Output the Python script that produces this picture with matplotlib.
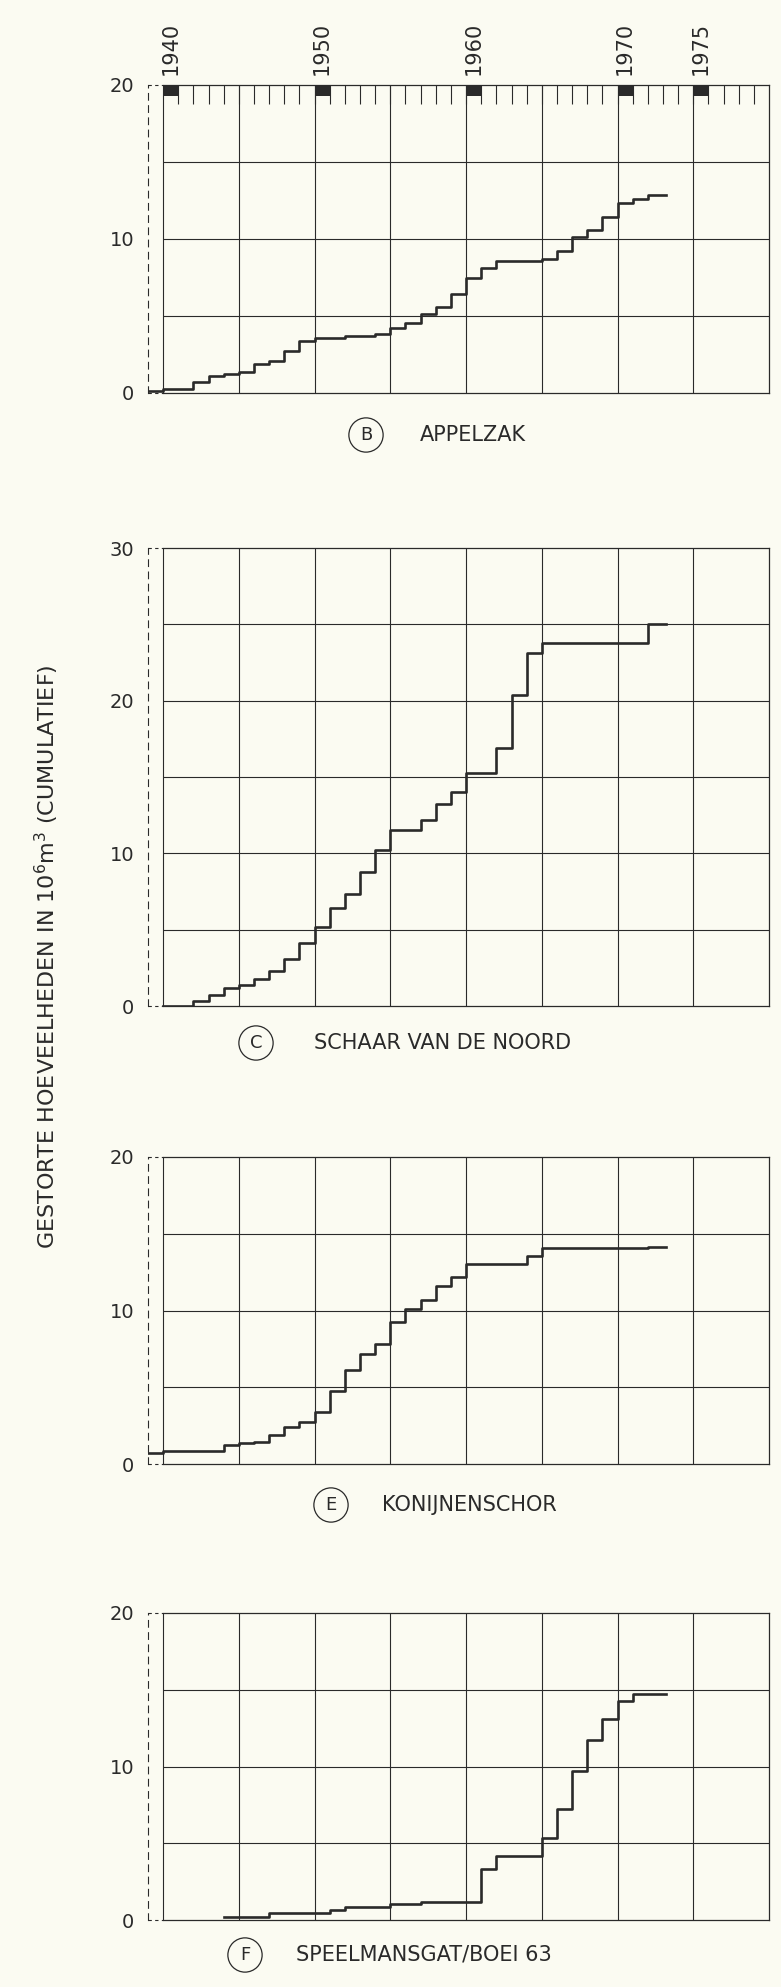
import numpy as np
import matplotlib.pyplot as plt

# year labels on top of the first panel, last year of every record
label_years = [1940, 1950, 1960, 1970, 1975]
end_year = 1973.2

# cumulative dumped quantities (10^6 m3), value valid from the given year on
appelzak_years = [1939, 1940, 1942, 1943, 1944, 1945, 1946, 1947, 1948, 1949,
                  1950, 1952, 1954, 1955, 1956, 1957, 1958, 1959, 1960, 1961,
                  1962, 1965, 1966, 1967, 1968, 1969, 1970, 1971, 1972]
appelzak_values = [0.1, 0.25, 0.7, 1.1, 1.25, 1.35, 1.9, 2.1, 2.75, 3.35,
                   3.6, 3.7, 3.8, 4.2, 4.55, 5.1, 5.6, 6.4, 7.45, 8.1,
                   8.6, 8.7, 9.2, 10.1, 10.6, 11.45, 12.35, 12.6, 12.85]

schaar_years = [1940, 1942, 1943, 1944, 1945, 1946, 1947, 1948, 1949, 1950,
                1951, 1952, 1953, 1954, 1955, 1957, 1958, 1959, 1960, 1962,
                1963, 1964, 1965, 1972]
schaar_values = [0.0, 0.35, 0.75, 1.2, 1.4, 1.8, 2.3, 3.1, 4.1, 5.15,
                 6.45, 7.35, 8.75, 10.2, 11.5, 12.2, 13.2, 14.0, 15.25, 16.9,
                 20.4, 23.1, 23.8, 25.05]

konijnen_years = [1939, 1940, 1944, 1945, 1946, 1947, 1948, 1949, 1950, 1951,
                  1952, 1953, 1954, 1955, 1956, 1957, 1958, 1959, 1960, 1964,
                  1965, 1972]
konijnen_values = [0.7, 0.85, 1.25, 1.35, 1.45, 1.9, 2.4, 2.75, 3.4, 4.75,
                   6.1, 7.15, 7.85, 9.25, 10.1, 10.7, 11.6, 12.2, 13.05, 13.55,
                   14.1, 14.15]

speelmans_years = [1944, 1947, 1951, 1952, 1955, 1957, 1961, 1962, 1965, 1966,
                   1967, 1968, 1969, 1970, 1971]
speelmans_values = [0.2, 0.45, 0.65, 0.87, 1.02, 1.2, 3.3, 4.15, 5.35, 7.2,
                    9.7, 11.7, 13.1, 14.25, 14.7]

letters = ['B', 'C', 'E', 'F']
names = ['APPELZAK', 'SCHAAR VAN DE NOORD', 'KONĲNENSCHOR', 'SPEELMANSGAT/BOEI 63']
y_max = [20, 30, 20, 20]

ink = '#2a2a2a'
paper = '#fbfbf2'
W, H = 781, 1987

# panel top/bottom and title placement in pixels
boxes = [(85, 393), (548, 1006), (1157, 1464), (1613, 1920)]
title_pos = [(366, 420, 435), (256, 314, 1043), (331, 382, 1505), (245, 296, 1955)]

fig = plt.figure(figsize=(W / 100, H / 100), dpi=100, facecolor=paper)

series = [(appelzak_years, appelzak_values), (schaar_years, schaar_values),
          (konijnen_years, konijnen_values), (speelmans_years, speelmans_values)]

axes = []
for i, (yrs, vals) in enumerate(series):
    top, bot = boxes[i]
    ax = fig.add_axes([148 / W, 1 - bot / H, (769 - 148) / W, (bot - top) / H])
    ax.set_facecolor('none')
    ymax = y_max[i]

    ax.vlines(range(1940, 1980, 5), 0, ymax, color=ink, lw=0.8)
    ax.hlines(range(5, ymax, 5), 1940, 1980, color=ink, lw=0.8)
    ax.step(list(yrs) + [end_year], list(vals) + [vals[-1]], where='post',
            color=ink, lw=1.9, zorder=3)

    ax.set_xlim(1939, 1980)
    ax.set_ylim(0, ymax)
    for s in ['top', 'bottom', 'right']:
        ax.spines[s].set_color(ink)
        ax.spines[s].set_linewidth(0.9)
    ax.spines['top'].set_bounds(1940, 1980)
    ax.spines['bottom'].set_bounds(1940, 1980)
    ax.spines['left'].set_linestyle((0, (6, 5)))
    ax.spines['left'].set_linewidth(0.8)
    ax.spines['left'].set_color(ink)
    for yy in [0, ymax]:
        ax.plot([1939, 1940], [yy, yy], color=ink, lw=0.8, ls=(0, (3, 3)),
                clip_on=False)

    ax.set_yticks(range(0, ymax + 1, 10))
    ax.tick_params(axis='y', length=0, pad=10, labelsize=14, labelcolor=ink)
    ax.set_xticks([])

    cx, tx, ty = title_pos[i]
    fig.text(cx / W, 1 - ty / H, letters[i], fontsize=13, color=ink,
             ha='center', va='center',
             bbox=dict(boxstyle='circle,pad=0.45', fc='none', ec=ink, lw=0.9))
    fig.text(tx / W, 1 - ty / H, names[i], fontsize=15, color=ink,
             ha='left', va='center')
    axes.append(ax)

# year scale on top of the first panel
ax = axes[0]
ax.bar(np.array(label_years) + 0.5, 0.7, width=1.0, bottom=20 - 0.7,
       color=ink, zorder=4)
ax.xaxis.set_ticks_position('top')
ax.set_xticks(np.array(label_years) + 0.5, labels=[str(y) for y in label_years],
              rotation=90)
ax.set_xticks(range(1941, 1980), minor=True)
ax.tick_params(axis='x', which='major', length=0, pad=7, labelsize=15,
               labelcolor=ink)
ax.tick_params(axis='x', which='minor', direction='in', length=14, width=0.8,
               color=ink, top=True, bottom=False)

fig.text(47 / W, 1 - 957 / H,
         'GESTORTE HOEVEELHEDEN IN 10$^6$m$^3$ (CUMULATIEF)',
         rotation=90, fontsize=16, color=ink, ha='center', va='center')

fig.savefig('out.png', dpi=100, facecolor=paper)
